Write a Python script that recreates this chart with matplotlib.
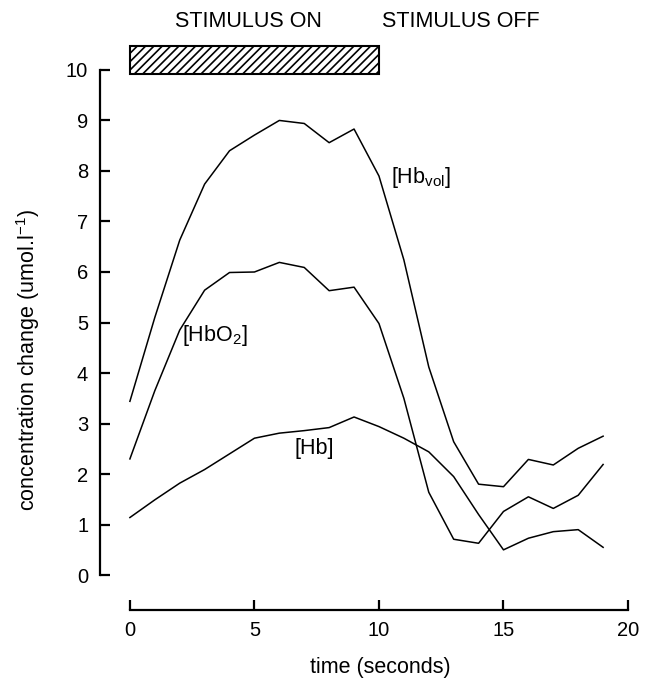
import matplotlib
matplotlib.use("Agg")
import matplotlib.pyplot as plt
from matplotlib.patches import Rectangle

plt.rcParams["font.family"] = ["Liberation Sans", "DejaVu Sans"]
plt.rcParams["hatch.linewidth"] = 1.2

time_s = [0, 1, 2, 3, 4, 5, 6, 7, 8, 9, 10, 11, 12, 13, 14, 15, 16, 17, 18, 19]
hb_vol = [3.44, 5.1, 6.63, 7.74, 8.40, 8.71, 9.0, 8.94, 8.56, 8.83,
          7.9, 6.24, 4.12, 2.64, 1.80, 1.75, 2.29, 2.18, 2.51, 2.75]
hb_o2 = [2.30, 3.65, 4.85, 5.64, 5.99, 6.0, 6.19, 6.09, 5.63, 5.70,
         4.98, 3.5, 1.64, 0.71, 0.63, 1.26, 1.55, 1.32, 1.58, 2.19]
hb = [1.14, 1.49, 1.82, 2.09, 2.40, 2.71, 2.81, 2.86, 2.92, 3.13,
      2.94, 2.71, 2.44, 1.95, 1.2, 0.50, 0.73, 0.86, 0.90, 0.55]

stim_start, stim_end = 0, 10
x_ticks = [0, 5, 10, 15, 20]
y_ticks = list(range(0, 11))

fs = 15.5
tick_fs = 14.5

fig = plt.figure(figsize=(6.58, 6.83), dpi=100)
ax = fig.add_axes([0.152, 0.084, 0.810, 0.858])

for series in (hb_vol, hb_o2, hb):
    ax.plot(time_s, series, color="black", linewidth=1.1)

# stimulus bar
ax.add_patch(Rectangle((stim_start, 9.92), stim_end - stim_start, 0.56,
                       facecolor="white", edgecolor="black", hatch="////",
                       linewidth=1.5, clip_on=False))
ax.text(4.75, 10.95, "STIMULUS ON", ha="center", va="center", fontsize=fs, clip_on=False)
ax.text(13.3, 10.95, "STIMULUS OFF", ha="center", va="center", fontsize=fs, clip_on=False)

ax.text(10.5, 7.88, r"[Hb$_{\mathregular{vol}}$]", ha="left", va="center", fontsize=fs)
ax.text(2.1, 4.75, r"[HbO$_{\mathregular{2}}$]", ha="left", va="center", fontsize=fs)
ax.text(6.6, 2.51, "[Hb]", ha="left", va="center", fontsize=fs)

ax.set_xlim(-1.2, 20.2)
ax.set_ylim(-1.0, 10.6)

ax.spines["top"].set_visible(False)
ax.spines["right"].set_visible(False)
ax.spines["left"].set_position(("data", -1.2))
ax.spines["left"].set_bounds(0, 10)
ax.spines["bottom"].set_position(("data", -0.69))
ax.spines["bottom"].set_bounds(0, 20)
for side in ("left", "bottom"):
    ax.spines[side].set_linewidth(1.6)

ax.set_xticks(x_ticks)
ax.set_yticks(y_ticks)
ax.tick_params(axis="both", direction="in", length=7, width=1.6, labelsize=tick_fs)
ax.tick_params(axis="y", pad=8.5)
ax.tick_params(axis="x", pad=8)

fig.text(380 / 658, 1 - 668 / 683, "time (seconds)", ha="center", va="center", fontsize=fs)
fig.text(28 / 658, 1 - 360 / 683, r"concentration change (umol.l$^{\mathregular{-1}}$)",
         ha="center", va="center", rotation=90, fontsize=fs)

fig.savefig("out.png", dpi=100)
